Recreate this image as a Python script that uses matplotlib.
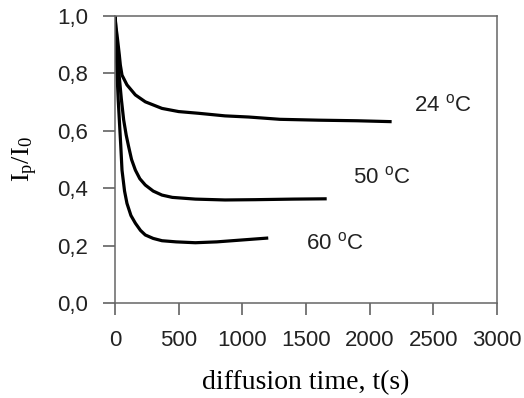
import matplotlib.pyplot as plt

# curve values (time in s, relative intensity)
t_24 = [0, 8, 16, 34, 42, 55, 94, 160, 238, 369, 500, 657, 864, 1050, 1296, 1600, 1900, 2160]
v_24 = [1.0, 0.96, 0.934, 0.864, 0.829, 0.794, 0.760, 0.725, 0.701, 0.678, 0.667, 0.661,
        0.652, 0.648, 0.640, 0.637, 0.635, 0.632]

t_50 = [0, 15, 31, 50, 68, 88, 107, 130, 160, 195, 238, 300, 369, 450, 631, 864, 1100, 1400, 1650]
v_50 = [1.0, 0.90, 0.80, 0.71, 0.638, 0.585, 0.545, 0.50, 0.463, 0.433, 0.411, 0.39, 0.376,
        0.368, 0.362, 0.359, 0.360, 0.362, 0.363]

t_60 = [0, 8, 16, 25, 34, 45, 55, 75, 94, 125, 160, 200, 238, 300, 369, 480, 631, 800, 950, 1100, 1191]
v_60 = [1.0, 0.90, 0.80, 0.71, 0.638, 0.55, 0.463, 0.39, 0.347, 0.305, 0.278, 0.253, 0.237,
        0.225, 0.217, 0.213, 0.210, 0.213, 0.218, 0.223, 0.226]

labels = ["24 $^{\\mathregular{o}}$C", "50 $^{\\mathregular{o}}$C", "60 $^{\\mathregular{o}}$C"]
label_pos = [(2577, 0.689), (2097, 0.439), (1728, 0.209)]

xticks = [0, 500, 1000, 1500, 2000, 2500, 3000]
yticks = [0.0, 0.2, 0.4, 0.6, 0.8, 1.0]

plt.rcParams['font.family'] = ['Liberation Sans', 'DejaVu Sans']

fig = plt.figure(figsize=(5.24, 3.98), dpi=100)
ax = fig.add_axes([115 / 524, 1 - 303 / 398, 382 / 524, 287 / 398])

for t, v in [(t_24, v_24), (t_50, v_50), (t_60, v_60)]:
    ax.plot(t, v, color='black', lw=2.3, solid_joinstyle='round')

for lab, (x, y) in zip(labels, label_pos):
    ax.text(x, y, lab, fontsize=16, ha='center', va='center', color='#222222')

ax.set_xlim(0, 3000)
ax.set_ylim(0, 1.0)
ax.set_xticks(xticks)
ax.set_yticks(yticks)
ax.set_yticklabels([f"{v:.1f}".replace('.', ',') for v in yticks])
ax.tick_params(direction='out', length=8.5, width=1.1, color='#555555',
               labelsize=16, labelcolor='#222222')
ax.tick_params(axis='x', pad=11)
ax.tick_params(axis='y', pad=11)

for s in ax.spines.values():
    s.set_color('#666666')
    s.set_linewidth(1.1)

ax.set_xlabel("diffusion time, t(s)", family='Liberation Serif', fontsize=20, labelpad=14)
ax.set_ylabel(r"$\mathregular{I_p/I_0}$", family='Liberation Serif', fontsize=19, labelpad=12)

fig.savefig("out.png", dpi=100)
